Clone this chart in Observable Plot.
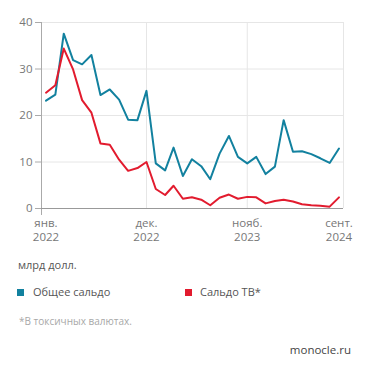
<!DOCTYPE html>
<html>
<head>
<meta charset="utf-8">
<script src="https://cdn.jsdelivr.net/npm/d3@7"></script>
<script src="https://cdn.jsdelivr.net/npm/@observablehq/plot@0.6"></script>
<style>
  html, body { margin: 0; padding: 0; background: #fff; }
  body { width: 371px; height: 371px; position: relative; overflow: hidden; font-family: "Open Sans", sans-serif; }
  #chart { position: absolute; left: 0; top: 0; }
  .t { position: absolute; white-space: nowrap; line-height: 1; }
  .sq { position: absolute; width: 7px; height: 7px; }
</style>
</head>
<body>
<div id="chart"></div>
<div class="t" id="unit" style="left:18px; top:259px; font-size:11px; color:#555;"></div>
<div class="sq" id="sq1" style="left:17px; top:289px;"></div>
<div class="t" id="lg1" style="left:33px; top:286px; font-size:11px; color:#555;"></div>
<div class="sq" id="sq2" style="left:185px; top:289px;"></div>
<div class="t" id="lg2" style="left:200px; top:286px; font-size:11px; color:#555;"></div>
<div class="t" id="note" style="left:19px; top:316px; font-size:10px; color:#a8a8a8;"></div>
<div class="t" id="src" style="right:20px; top:344px; font-size:11.5px; color:#444;"></div>
<script>
// Monthly, Jan 2022 – Sep 2024
const startMonth = "2022-01-01";
const total = [23.2, 24.5, 37.6, 31.9, 31.0, 33.0, 24.4, 25.6, 23.4, 19.1, 19.0, 25.3,
               9.7, 8.2, 13.1, 7.0, 10.6, 9.1, 6.3, 11.8, 15.6, 11.1, 9.7, 11.1,
               7.4, 9.0, 19.0, 12.2, 12.3, 11.7, 10.8, 9.8, 12.9];
const toxic = [24.9, 26.5, 34.4, 29.9, 23.3, 20.6, 14.0, 13.7, 10.5, 8.1, 8.7, 10.0,
               4.2, 2.9, 4.9, 2.1, 2.4, 1.9, 0.7, 2.3, 3.0, 2.1, 2.5, 2.4,
               1.1, 1.6, 1.9, 1.5, 0.9, 0.7, 0.6, 0.4, 2.4];
const seriesNames = ["Общее сальдо", "Сальдо ТВ*"];
const seriesColors = ["#12819f", "#e21b2e"];
const yTicks = [0, 10, 20, 30, 40];
const xTickDates = ["2022-01-01", "2022-12-01", "2023-11-01", "2024-09-01"];
const xTickLabels = ["янв.\n2022", "дек.\n2022", "нояб.\n2023", "сент.\n2024"];
const xGridDates = ["2022-12-01", "2023-11-01"];
const unitLabel = "млрд долл.";
const note = "*В токсичных валютах.";
const source = "monocle.ru";

const start = new Date(startMonth);
const months = d3.utcMonth.range(start, d3.utcMonth.offset(start, total.length));
const rows = [];
months.forEach((d, i) => {
  rows.push({date: d, value: total[i], series: seriesNames[0]});
  rows.push({date: d, value: toxic[i], series: seriesNames[1]});
});
const x0 = d3.utcDay.offset(months[0], -15);
const x1 = d3.utcDay.offset(months[months.length - 1], 15);
const parse = s => new Date(s);

const chart = Plot.plot({
  width: 371,
  height: 248,
  marginLeft: 41,
  marginRight: 28,
  marginTop: 22,
  marginBottom: 40,
  style: {fontFamily: "Open Sans, sans-serif", fontSize: "11px", color: "#777", background: "#fff", overflow: "visible"},
  x: {type: "utc", domain: [x0, x1]},
  y: {domain: [0, 40]},
  color: {domain: seriesNames, range: seriesColors},
  marks: [
    Plot.ruleY(yTicks.filter(d => d > 0), {stroke: "#e6e6e6", strokeWidth: 1}),
    Plot.ruleX(xGridDates.map(parse), {stroke: "#e6e6e6", strokeWidth: 1}),
    Plot.ruleX([x1], {stroke: "#e6e6e6", strokeWidth: 1}),
    Plot.axisY({ticks: yTicks, tickSize: 6, tickPadding: 3, stroke: "#aaa", fill: "#777", fontSize: 11.5, label: null}),
    Plot.ruleX([x0], {y1: -1.5, y2: 40, stroke: "#aaa", strokeWidth: 1, clip: false}),
    Plot.ruleY([0], {stroke: "#999", strokeWidth: 1}),
    Plot.line(rows, {x: "date", y: "value", z: "series", stroke: "series", strokeWidth: 2, curve: "linear"}),
    Plot.axisX({ticks: xTickDates.map(parse), tickSize: 0, tickPadding: 9, fill: "#777", fontSize: 11.5, lineHeight: 1.2,
      tickFormat: d => xTickLabels[xTickDates.map(parse).findIndex(t => +t === +d)], label: null})
  ]
});
document.getElementById("chart").appendChild(chart);
document.getElementById("unit").textContent = unitLabel;
document.getElementById("sq1").style.background = seriesColors[0];
document.getElementById("sq2").style.background = seriesColors[1];
document.getElementById("lg1").textContent = seriesNames[0];
document.getElementById("lg2").textContent = seriesNames[1];
document.getElementById("note").textContent = note;
document.getElementById("src").textContent = source;
</script>
</body>
</html>
